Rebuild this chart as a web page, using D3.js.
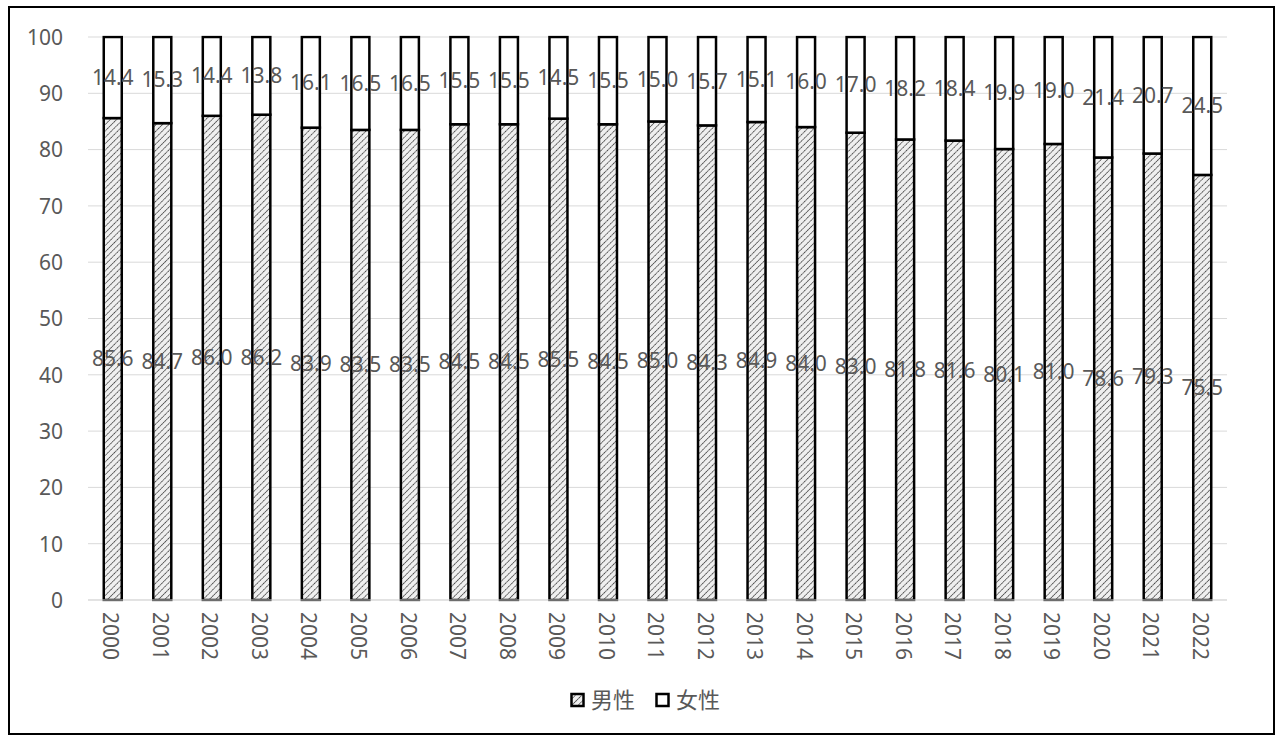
<!DOCTYPE html>
<html>
<head>
<meta charset="utf-8">
<script src="https://cdn.jsdelivr.net/npm/d3@7"></script>
<style>
  html, body { margin: 0; padding: 0; background: #fff; }
  svg { display: block; }
</style>
</head>
<body>
<svg id="chart" width="1282" height="737"></svg>
<script>
// Share of men and women by year (percent)
const years = ["2000","2001","2002","2003","2004","2005","2006","2007","2008","2009","2010","2011",
               "2012","2013","2014","2015","2016","2017","2018","2019","2020","2021","2022"];
const male   = [85.6,84.7,86.0,86.2,83.9,83.5,83.5,84.5,84.5,85.5,84.5,85.0,84.3,84.9,84.0,83.0,81.8,81.6,80.1,81.0,78.6,79.3,75.5];
const female = [14.4,15.3,14.4,13.8,16.1,16.5,16.5,15.5,15.5,14.5,15.5,15.0,15.7,15.1,16.0,17.0,18.2,18.4,19.9,19.0,21.4,20.7,24.5];
const seriesNames = ["男性", "女性"];
const yTicks = [0,10,20,30,40,50,60,70,80,90,100];

const svg = d3.select("#chart");
const plot = { left: 88, right: 1227, top: 37, bottom: 600 };
const numFont = "'Noto Sans', 'Noto Sans CJK SC', sans-serif";
const textColor = "#595959";

// Outer frame
svg.append("rect")
  .attr("x", 9).attr("y", 7).attr("width", 1265).attr("height", 727)
  .attr("fill", "#fff").attr("stroke", "#000").attr("stroke-width", 2);

// Hatch pattern for the male series
const defs = svg.append("defs");
const pat = defs.append("pattern")
  .attr("id", "hatch").attr("patternUnits", "userSpaceOnUse")
  .attr("width", 4.5).attr("height", 4.5)
  .attr("patternTransform", "rotate(45)");
pat.append("rect").attr("width", 4.5).attr("height", 4.5).attr("fill", "#efefef");
pat.append("line").attr("x1", 0).attr("y1", 0).attr("x2", 0).attr("y2", 4.5)
  .attr("stroke", "#2e2e2e").attr("stroke-width", 1.5).attr("stroke-dasharray", "1.8,0.45");

const x = d3.scaleBand().domain(years).range([plot.left, plot.right]).paddingInner(0.6).paddingOuter(0.3);
const y = d3.scaleLinear().domain([0, 100]).range([plot.bottom, plot.top]);

// Gridlines
svg.append("g").selectAll("line").data(yTicks).join("line")
  .attr("x1", plot.left).attr("x2", plot.right)
  .attr("y1", d => y(d)).attr("y2", d => y(d))
  .attr("stroke", "#d9d9d9").attr("stroke-width", 1);

// Y axis labels
const yAxis = d3.axisLeft(y).tickValues(yTicks).tickSize(0).tickPadding(0);
const yg = svg.append("g").attr("transform", `translate(${plot.left - 25},0)`).call(yAxis);
yg.select(".domain").remove();
yg.selectAll("text").attr("font-family", numFont).attr("font-size", 21).attr("fill", textColor)
  .attr("dy", "0.35em");

// Stacked data
const rows = years.map((yr, i) => ({ year: yr, male: male[i], female: female[i] }));
const stack = d3.stack().keys(["male", "female"])(rows);

const clip = defs.append("clipPath").attr("id", "plotclip");
clip.append("rect").attr("x", plot.left).attr("y", plot.top - 1.5)
  .attr("width", plot.right - plot.left).attr("height", plot.bottom - plot.top + 3);

const barW = 18;
const bars = svg.append("g").attr("clip-path", "url(#plotclip)");
stack.forEach((layer, li) => {
  bars.append("g").selectAll("rect").data(layer).join("rect")
    .attr("x", d => x(d.data.year) + x.bandwidth() / 2 - barW / 2)
    .attr("y", d => y(Math.min(d[1], 100)))
    .attr("width", barW)
    .attr("height", d => y(d[0]) - y(Math.min(d[1], 100)))
    .attr("fill", li === 0 ? "url(#hatch)" : "#fff")
    .attr("stroke", "#000").attr("stroke-width", 2.5);
});

// Value labels at the middle of each segment
const labels = svg.append("g");
stack.forEach((layer, li) => {
  labels.append("g").selectAll("text").data(layer).join("text")
    .attr("x", d => x(d.data.year) + x.bandwidth() / 2)
    .attr("y", d => y((d[0] + d[1]) / 2))
    .attr("dy", "0.35em")
    .attr("text-anchor", "middle")
    .attr("font-family", numFont).attr("font-size", 21).attr("fill", textColor)
    .text(d => (li === 0 ? d.data.male : d.data.female).toFixed(1));
});

// X axis baseline and rotated year labels
svg.append("line").attr("x1", plot.left).attr("x2", plot.right)
  .attr("y1", plot.bottom).attr("y2", plot.bottom).attr("stroke", "#d9d9d9");
const xAxis = d3.axisBottom(x).tickSize(0).tickPadding(0);
const xg = svg.append("g").attr("transform", `translate(0,${plot.bottom})`).call(xAxis);
xg.select(".domain").remove();
xg.selectAll("text")
  .attr("font-family", numFont).attr("font-size", 21).attr("fill", textColor)
  .attr("transform", "translate(-2,12) rotate(90)")
  .attr("text-anchor", "start").attr("dy", "0.35em").attr("y", 0).attr("x", 0);

// Legend
const legend = svg.append("g").attr("transform", "translate(570,700)");
const legItems = [{ name: seriesNames[0], fill: "url(#hatch)", x: 0 }, { name: seriesNames[1], fill: "#fff", x: 85 }];
legItems.forEach(it => {
  legend.append("rect").attr("x", it.x + 1.5).attr("y", -6).attr("width", 12).attr("height", 12)
    .attr("fill", it.fill).attr("stroke", "#000").attr("stroke-width", 2.5);
  legend.append("text").attr("x", it.x + 21).attr("y", 0).attr("dy", "0.35em")
    .attr("font-family", "'Noto Sans CJK SC', sans-serif").attr("font-size", 22).attr("fill", textColor)
    .text(it.name);
});
</script>
</body>
</html>
